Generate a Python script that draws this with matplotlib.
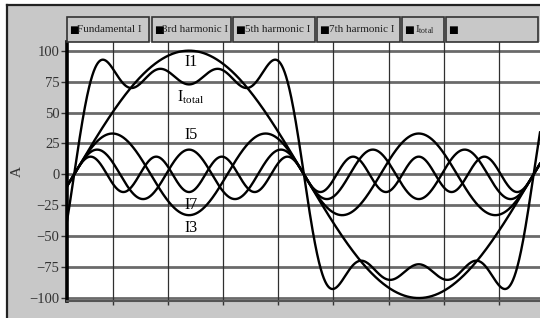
import numpy as np
import matplotlib
matplotlib.use("Agg")
import matplotlib.pyplot as plt
from matplotlib.lines import Line2D
from matplotlib.patches import Rectangle

plt.rcParams['font.family'] = ['Liberation Serif', 'DejaVu Sans']
plt.rcParams['mathtext.fontset'] = 'custom'
plt.rcParams['mathtext.rm'] = 'Liberation Serif'
plt.rcParams['mathtext.it'] = 'Liberation Serif'

# ---- data ----
harmonic_orders = [1, 3, 5, 7]
amplitudes = [100.0, 33.0, 20.0, 14.3]          # A, peak values
legend_labels = ["Fundamental I", "3rd harmonic I", "5th harmonic I",
                 "7th harmonic I", "I$_{\\rm total}$", ""]
legend_gap = [10.5, 10.5, 12.0, 12.0, 12.5, 0]
y_ticks = [-100, -75, -50, -25, 0, 25, 50, 75, 100]
x_grid = [30.5, 73.6, 116.8, 160.0, 203.2, 246.4, 289.6, 332.8]   # degrees
x_range = (-6.0, 365.0)

theta = np.linspace(x_range[0], x_range[1], 2000)
rad = np.deg2rad(theta)
comps = [a * np.sin(n * rad) for n, a in zip(harmonic_orders, amplitudes)]
total = np.sum(comps, axis=0)

W, H = 540, 318
gray = '#c8c8c8'
fig = plt.figure(figsize=(W / 100, H / 100), dpi=100)
fig.patch.set_facecolor(gray)

# white margins outside the panel border
fig.patches.append(Rectangle((0, 0), 7 / W, 1, transform=fig.transFigure,
                             facecolor='white', edgecolor='none', zorder=0))
fig.patches.append(Rectangle((0, 1 - 5 / H), 1, 5 / H, transform=fig.transFigure,
                             facecolor='white', edgecolor='none', zorder=0))
fig.add_artist(Line2D([7 / W, 1], [1 - 5 / H, 1 - 5 / H], transform=fig.transFigure,
                      color='#222222', lw=1.6))
fig.add_artist(Line2D([7 / W, 7 / W], [0, 1 - 5 / H], transform=fig.transFigure,
                      color='#222222', lw=1.6))

ax = fig.add_axes([66.5 / W, 1 - 301 / H, 1 - 66.5 / W, (301 - 42) / H])
ax.set_facecolor('white')
ax.set_xlim(*x_range)
ax.set_ylim(-102.4, 107)

for y in y_ticks:
    ax.axhline(y, color='#6a6a6a', lw=2.0, zorder=1)
for x in x_grid:
    ax.axvline(x, color='#303030', lw=0.9, zorder=1)

for c in comps:
    ax.plot(theta, c, color='black', lw=1.7, zorder=3)
ax.plot(theta, total, color='black', lw=1.7, zorder=3)

ax.set_yticks(y_ticks)
ax.set_yticklabels([str(v).replace('-', '\u2212') for v in y_ticks], fontsize=10.5,
                   color='#333333')
ax.set_xticks(x_grid)
ax.set_xticklabels([])
ax.tick_params(axis='y', length=4, width=1, color='#333333', pad=1)
ax.tick_params(axis='x', length=3, width=1, color='#333333')
for s in ['top', 'right']:
    ax.spines[s].set_visible(False)
ax.spines['left'].set_linewidth(2.6)
ax.spines['left'].set_color('black')
ax.spines['bottom'].set_linewidth(1.5)
ax.spines['bottom'].set_color('#555555')
ax.set_ylabel('A', fontsize=11, color='#333333')
ax.yaxis.set_label_coords(-(66.5 - 24) / (W - 66.5), 0.5)

# curve labels
lab_x = 91.5
ax.text(lab_x, 90.5, "I1", fontsize=11.5, ha='center', va='center', zorder=4)
ax.text(lab_x, 62.0, "I$_{\\rm total}$", fontsize=11.5, ha='center', va='center', zorder=4)
ax.text(lab_x, 32.0, "I5", fontsize=11.5, ha='center', va='center', zorder=4)
ax.text(lab_x, -24.5, "I7", fontsize=11.5, ha='center', va='center', zorder=4)
ax.text(lab_x, -43.0, "I3", fontsize=11.5, ha='center', va='center', zorder=4)

# legend boxes
boxes = [(66.7, 149.3), (151.7, 231), (232.7, 315), (316.7, 400), (402.3, 443.5), (446, 538)]
by0, by1 = 17, 42
for (x0, x1), lab, gap in zip(boxes, legend_labels, legend_gap):
    fig.patches.append(Rectangle((x0 / W, 1 - by1 / H), (x1 - x0) / W, (by1 - by0) / H,
                                 transform=fig.transFigure, facecolor=gray,
                                 edgecolor='#333333', lw=1.2, zorder=2))
    fig.text((x0 + 2) / W, 1 - 29.5 / H, "\u25a0", fontsize=7.5, ha='left',
             va='center', color='black', family=['DejaVu Sans'], zorder=3)
    if lab:
        fig.text((x0 + gap) / W, 1 - 29.5 / H, lab, fontsize=8.0, ha='left',
                 va='center', color='#222222', zorder=3)
# line samples under legend text
fig.add_artist(Line2D([76 / W, 133 / W], [1 - 38.5 / H, 1 - 38.5 / H],
                      transform=fig.transFigure, color='#222222', lw=1.2))
fig.add_artist(Line2D([417 / W, 437 / W], [1 - 38.5 / H, 1 - 38.5 / H],
                      transform=fig.transFigure, color='#222222', lw=1.2))

fig.savefig('out.png', dpi=100)
